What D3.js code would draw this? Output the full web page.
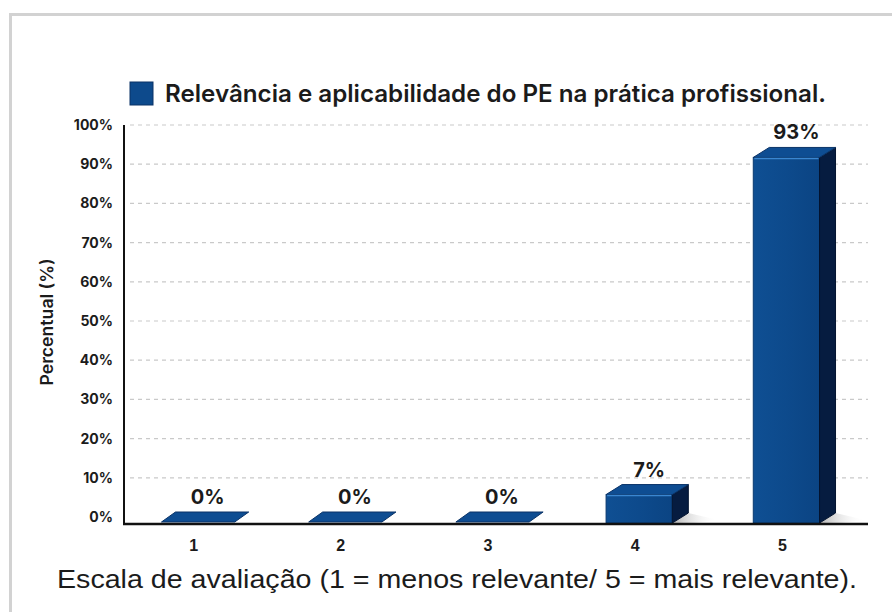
<!DOCTYPE html>
<html>
<head>
<meta charset="utf-8">
<script src="https://cdn.jsdelivr.net/npm/d3@7/dist/d3.min.js"></script>
<style>
  html, body { margin: 0; padding: 0; background: #ffffff; }
  svg { display: block; }
</style>
</head>
<body>
<svg id="chart" width="892" height="612"></svg>
<script>
// Rating scale categories and share of responses (%)
const categories = ["1", "2", "3", "4", "5"];
const values = [0, 0, 0, 7, 93];
const yTicks = [0, 10, 20, 30, 40, 50, 60, 70, 80, 90, 100];
const seriesName = "Relevância e aplicabilidade do PE na prática profissional.";
const xTitle = "Escala de avaliação (1 = menos relevante/ 5 = mais relevante).";
const yTitle = "Percentual (%)";

const svg = d3.select("#chart");

// Card frame (top and left edges visible)
svg.append("path")
  .attr("d", "M10.5,612 L10.5,14.5 L892,14.5")
  .attr("fill", "none")
  .attr("stroke", "#d2d2d2")
  .attr("stroke-width", 3);

const plot = { left: 124, right: 860, top: 125, bottom: 517, axisY: 524, axisRight: 868 };

const x = d3.scaleBand()
  .domain(categories)
  .range([plot.left, plot.right])
  .paddingInner(0.55)
  .paddingOuter(0.275);

const y = d3.scaleLinear()
  .domain([0, 100])
  .range([plot.bottom, plot.top]);

const depthX = 16, depthY = 10;

// Dashed grid
svg.append("g")
  .selectAll("line")
  .data(yTicks.filter(d => d > 0))
  .join("line")
  .attr("x1", plot.left + 6)
  .attr("x2", plot.axisRight)
  .attr("y1", d => y(d))
  .attr("y2", d => y(d))
  .attr("stroke", "#c9c9c9")
  .attr("stroke-width", 1.2)
  .attr("stroke-dasharray", "4,4");

// Y tick labels
svg.append("g")
  .selectAll("text")
  .data(yTicks)
  .join("text")
  .attr("x", 113)
  .attr("y", d => y(d) + 5)
  .attr("text-anchor", "end")
  .attr("font-family", "Inter, 'Open Sans', sans-serif")
  .attr("font-weight", 700)
  .attr("font-size", 14)
  .attr("fill", "#1b1b1b")
  .text(d => d + "%");

// Y axis title
svg.append("text")
  .attr("transform", "translate(53,322) rotate(-90)")
  .attr("text-anchor", "middle")
  .attr("font-family", "Inter, 'Open Sans', sans-serif")
  .attr("font-weight", 600)
  .attr("font-size", 17)
  .attr("fill", "#1b1b1b")
  .attr("textLength", 127)
  .attr("lengthAdjust", "spacingAndGlyphs")
  .text(yTitle);

// Gradients for floor shadow and faces
const defs = svg.append("defs");
const sh = defs.append("linearGradient").attr("id", "shadow")
  .attr("x1", "0").attr("x2", "1").attr("y1", "0").attr("y2", "0");
sh.append("stop").attr("offset", "0").attr("stop-color", "#9a9a9a").attr("stop-opacity", 0.75);
sh.append("stop").attr("offset", "1").attr("stop-color", "#ffffff").attr("stop-opacity", 0);

const front = defs.append("linearGradient").attr("id", "front")
  .attr("x1", "0").attr("x2", "1").attr("y1", "0").attr("y2", "0");
front.append("stop").attr("offset", "0").attr("stop-color", "#0f4f93");
front.append("stop").attr("offset", "0.5").attr("stop-color", "#0d4a8c");
front.append("stop").attr("offset", "1").attr("stop-color", "#0b4483");

const bars = svg.append("g")
  .selectAll("g")
  .data(categories.map((c, i) => ({ c, v: values[i] })))
  .join("g");

bars.each(function (d) {
  const g = d3.select(this);
  const x0 = x(d.c), x1 = x0 + x.bandwidth();
  const base = plot.axisY - 1;
  // front edge of the top face sits half a depth below the value line
  const top = Math.min(y(d.v) + depthY / 2, base);
  // flat (zero) bars show only a slightly wider top slab
  const fx0 = d.v > 0 ? x0 : x0 - 3, fx1 = d.v > 0 ? x1 : x1 + 4;
  const ddx = d.v > 0 ? depthX : 14;

  if (d.v > 0) {
    // floor shadow
    g.append("path")
      .attr("d", `M${x1},${base} L${x1 + depthX},${base - depthY} L${x1 + depthX + 30},${base - 3} L${x1 + 22},${base} Z`)
      .attr("fill", "url(#shadow)");
    // front face
    g.append("rect")
      .attr("x", x0).attr("y", top)
      .attr("width", x.bandwidth()).attr("height", base - top)
      .attr("fill", "url(#front)")
      .attr("stroke", "#0a3a70").attr("stroke-width", 1);
    // side face
    g.append("path")
      .attr("d", `M${x1},${top} L${x1 + depthX},${top - depthY} L${x1 + depthX},${base - depthY} L${x1},${base} Z`)
      .attr("fill", "#061c40")
      .attr("stroke", "#04142f").attr("stroke-width", 1);
  }
  // top face
  g.append("path")
    .attr("d", `M${fx0},${top} L${fx0 + ddx},${top - depthY} L${fx1 + ddx},${top - depthY} L${fx1},${top} Z`)
    .attr("fill", "#0e4d92")
    .attr("stroke", "#0a3367").attr("stroke-width", 1);
  if (d.v > 0) {
    // light edge along the top of the front face
    g.append("line")
      .attr("x1", x0 + 1).attr("x2", x1 - 1)
      .attr("y1", top + 1).attr("y2", top + 1)
      .attr("stroke", "#3a86d0").attr("stroke-width", 1.5);
  }

  // value label
  g.append("text")
    .attr("x", (x0 + x1 + depthX) / 2 + 2)
    .attr("y", top - depthY - 8)
    .attr("text-anchor", "middle")
    .attr("font-family", "Inter, 'Open Sans', sans-serif")
    .attr("font-weight", 700)
    .attr("font-size", 20)
    .attr("fill", "#1b1b1b")
    .text(d.v + "%");
});

// Axes
svg.append("line")
  .attr("x1", plot.left).attr("x2", plot.left)
  .attr("y1", plot.top).attr("y2", plot.axisY)
  .attr("stroke", "#111").attr("stroke-width", 2);
svg.append("line")
  .attr("x1", plot.left - 1).attr("x2", plot.axisRight)
  .attr("y1", plot.axisY).attr("y2", plot.axisY)
  .attr("stroke", "#111").attr("stroke-width", 2.5);

// X tick labels
svg.append("g")
  .selectAll("text")
  .data(categories)
  .join("text")
  .attr("x", d => x(d) + x.bandwidth() / 2 - 4)
  .attr("y", 551)
  .attr("text-anchor", "middle")
  .attr("font-family", "'Liberation Sans', Arial, sans-serif")
  .attr("font-weight", 700)
  .attr("font-size", 16)
  .attr("fill", "#1b1b1b")
  .text(d => d);

// X axis title
svg.append("text")
  .attr("x", 457)
  .attr("y", 588)
  .attr("text-anchor", "middle")
  .attr("font-family", "'Liberation Sans', Arial, sans-serif")
  .attr("font-size", 26)
  .attr("fill", "#1b1b1b")
  .attr("textLength", 800)
  .attr("lengthAdjust", "spacingAndGlyphs")
  .text(xTitle);

// Legend
svg.append("rect")
  .attr("x", 130).attr("y", 82)
  .attr("width", 23).attr("height", 23)
  .attr("fill", "#0d4a8c")
  .attr("stroke", "#0a3367").attr("stroke-width", 1);
svg.append("text")
  .attr("x", 165)
  .attr("y", 102)
  .attr("font-family", "Inter, 'Open Sans', sans-serif")
  .attr("font-weight", 600)
  .attr("font-size", 24)
  .attr("fill", "#1b1b1b")
  .attr("textLength", 661)
  .attr("lengthAdjust", "spacingAndGlyphs")
  .text(seriesName);
</script>
</body>
</html>
